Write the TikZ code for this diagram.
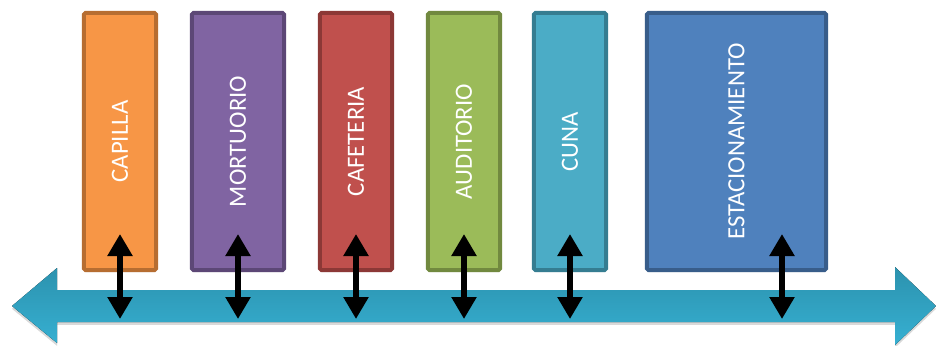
\documentclass[tikz,border=0pt]{standalone}
\usepackage{fontspec}
\setmainfont{Carlito}
\usepackage{xcolor}
\usetikzlibrary{arrows.meta,shadows}
\definecolor{capillaOrange}{RGB}{247, 150, 70}
\definecolor{capillaEdge}{RGB}{182, 109, 49}
\definecolor{mortuorioPurple}{RGB}{128, 100, 162}
\definecolor{mortuorioEdge}{RGB}{92, 71, 118}
\definecolor{cafeteriaRed}{RGB}{192, 80, 77}
\definecolor{cafeteriaEdge}{RGB}{140, 56, 54}
\definecolor{auditorioGreen}{RGB}{155, 187, 89}
\definecolor{auditorioEdge}{RGB}{113, 137, 63}
\definecolor{cunaCyan}{RGB}{75, 172, 198}
\definecolor{cunaEdge}{RGB}{53, 125, 145}
\definecolor{parkBlue}{RGB}{79, 129, 189}
\definecolor{parkEdge}{RGB}{56, 93, 138}
\definecolor{barTop}{RGB}{44, 146, 174}
\definecolor{barBottom}{RGB}{54, 176, 210}

\begin{document}
\begin{tikzpicture}[x=0.025cm, y=-0.025cm]
    \tikzstyle{room} = [rectangle, rotate=90, line width=0.1cm, rounded corners=1pt, minimum width=6.425cm, minimum height=1.8cm, text=white, font=\fontsize{17.6}{21}\selectfont, inner sep=0pt, drop shadow={opacity=0.25, shadow xshift=0.5pt, shadow yshift=-1.5pt}]
    \tikzstyle{link} = [draw, {Triangle[length=0.55cm, width=0.6cm]}-{Triangle[length=0.55cm, width=0.6cm]}, line width=0.135cm, black]

    \useasboundingbox (0,0) rectangle (936,345);

    % main corridor arrow
    \fill [drop shadow={opacity=0.3, shadow xshift=0pt, shadow yshift=-2pt}, top color=barTop, bottom color=barBottom]
        (12,306) -- (57,268) -- (57,290) -- (895,290) -- (895,267) -- (936,306)
        -- (895,345) -- (895,322) -- (57,322) -- (57,343) -- cycle;

    % rooms
    \node [room, fill=capillaOrange, draw=capillaEdge] (capilla) at (120,141.5) {CAPILLA};
    \node [room, fill=mortuorioPurple, draw=mortuorioEdge, minimum height=2.3cm] (mortuorio) at (238,141.5) {MORTUORIO};
    \node [room, fill=cafeteriaRed, draw=cafeteriaEdge] (cafeteria) at (356,141.5) {CAFETERIA};
    \node [room, fill=auditorioGreen, draw=auditorioEdge] (auditorio) at (464,141.5) {AUDITORIO};
    \node [room, fill=cunaCyan, draw=cunaEdge] (cuna) at (570,141.5) {CUNA};
    \node [room, fill=parkBlue, draw=parkEdge, minimum height=4.475cm] (estacionamiento) at (736.5,141.5) {ESTACIONAMIENTO};

    \coordinate (armTop) at (0,234);
    \coordinate (armLow) at (0,319);
    \coordinate (parkArm) at (782,0);

    % access links
    \foreach \room in {capilla, mortuorio, cafeteria, auditorio, cuna}
        \path [link] (\room |- armTop) -- (\room |- armLow);
    \path [link] (parkArm |- armTop) -- (parkArm |- armLow);
\end{tikzpicture}
\end{document}
